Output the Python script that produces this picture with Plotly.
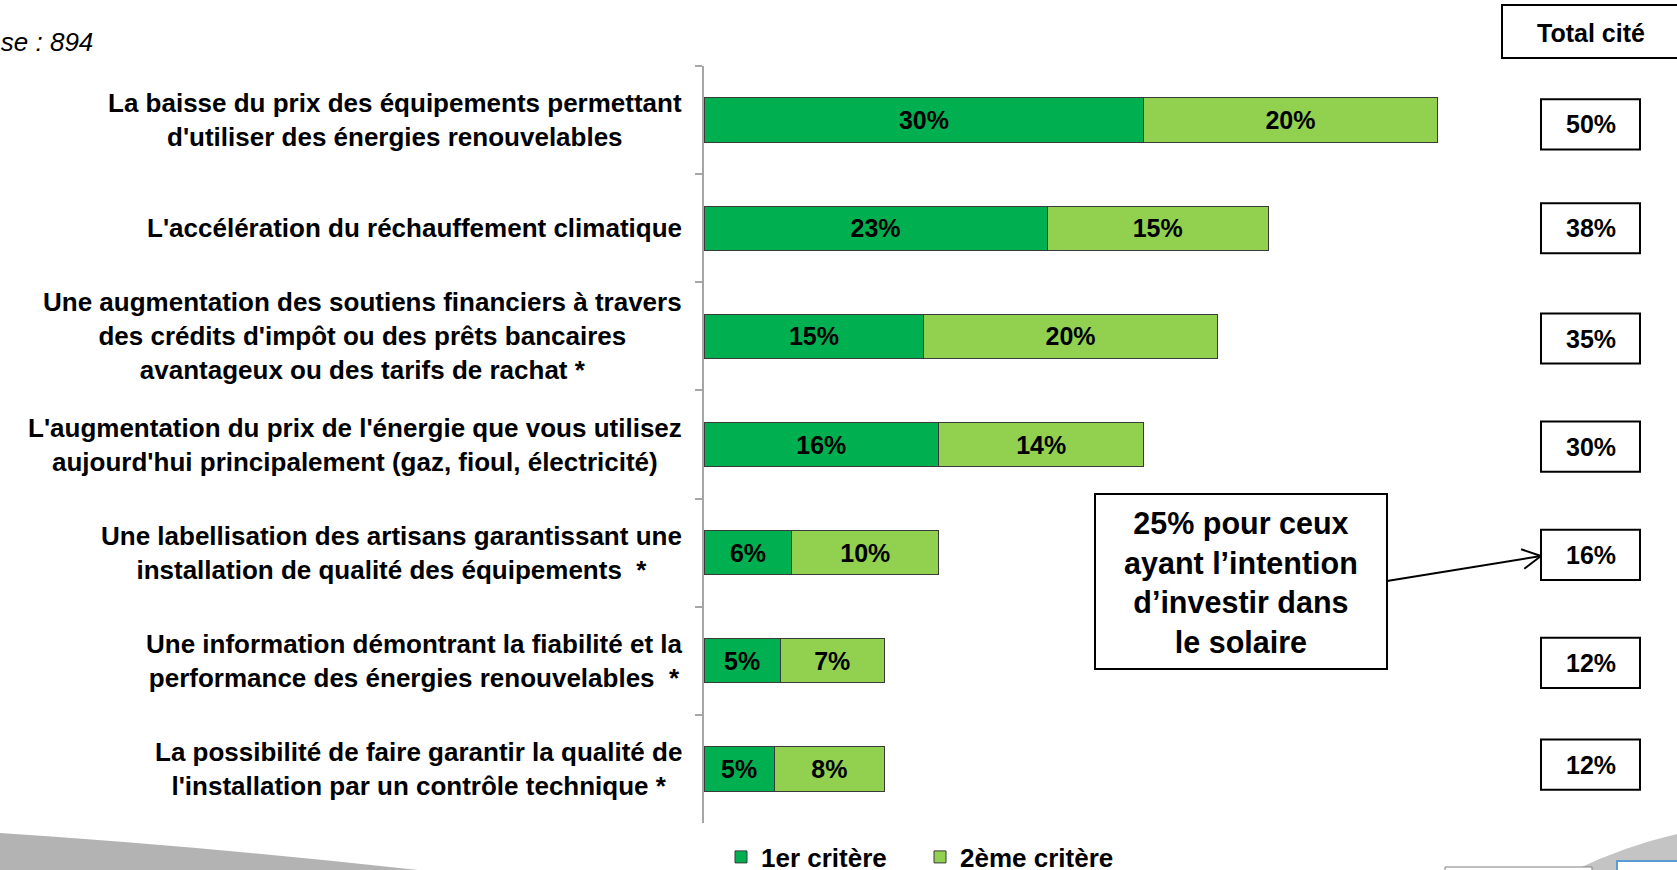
import math
import plotly.graph_objects as go

# ---------------- data ----------------
categories = [
    "La baisse du prix des équipements permettant<br>d'utiliser des énergies renouvelables",
    "L'accélération du réchauffement climatique",
    "Une augmentation des soutiens financiers à travers<br>des crédits d'impôt ou des prêts bancaires<br>avantageux ou des tarifs de rachat *",
    "L'augmentation du prix de l'énergie que vous utilisez<br>aujourd'hui principalement (gaz, fioul, électricité)",
    "Une labellisation des artisans garantissant une<br>installation de qualité des équipements  *",
    "Une information démontrant la fiabilité et la<br>performance des énergies renouvelables  *",
    "La possibilité de faire garantir la qualité de<br>l'installation par un contrôle technique *",
]
first_criterion = [30, 23.4, 15, 16, 6, 5.2, 4.8]
second_criterion = [20, 15.1, 20, 14, 10, 7.1, 7.5]
total_cited = [50, 38, 35, 30, 16, 12, 12]
series_names = ["1er critère", "2ème critère"]
series_colors = ["#00B050", "#92D050"]
base_text = "Base : 894"
header_text = "Total cité"
callout_text = "25% pour ceux<br>ayant l’intention<br>d’investir dans<br>le solaire"

# ---------------- helpers ----------------
W, H = 1677, 870
FONT = "Liberation Sans"
# slight offsets (in category units) of the "Total cité" boxes as placed on the slide
box_offsets = [0.04, 0.0, 0.02, 0.02, 0.02, 0.02, -0.04]


def px(x):
    return x / W


def py(y):
    return 1 - y / H


fig = go.Figure()
for name, vals, col in zip(series_names, [first_criterion, second_criterion], series_colors):
    fig.add_trace(go.Bar(
        y=categories, x=vals, orientation="h", name=name,
        marker=dict(color=col, line=dict(color="#3A3A3A", width=1)),
        texttemplate="%{x:.0f}%", textposition="inside", insidetextanchor="middle",
        textangle=0,
        textfont=dict(family=FONT, size=25, color="black", weight="bold"),
        hoverinfo="skip",
    ))

shapes = []
annotations = []

# category labels (centered lines, right-aligned block)
for c in categories:
    annotations.append(dict(
        x=px(684), xref="paper", y=c, yref="y", xanchor="right", yanchor="middle",
        align="center", showarrow=False, text=c,
        font=dict(family=FONT, size=26, color="black", weight="bold"),
    ))

# total boxes
for i, (t, off) in enumerate(zip(total_cited, box_offsets)):
    yc = i + off
    shapes.append(dict(type="rect", xref="paper", yref="y",
                       x0=px(1541), x1=px(1640), y0=yc - 0.232, y1=yc + 0.232,
                       line=dict(color="black", width=2), fillcolor="white", layer="below"))
    annotations.append(dict(
        x=px(1590.5), xref="paper", y=yc, yref="y", xanchor="center", yanchor="middle",
        showarrow=False, text=f"{t}%",
        font=dict(family=FONT, size=25, color="black", weight="bold"),
    ))

# header box
shapes.append(dict(type="rect", xref="paper", yref="paper",
                   x0=px(1502), x1=px(1700), y0=py(58), y1=py(5),
                   line=dict(color="black", width=2), fillcolor="white", layer="below"))
annotations.append(dict(x=px(1591), y=py(33), xref="paper", yref="paper", showarrow=False,
                        xanchor="center", yanchor="middle", text=header_text,
                        font=dict(family=FONT, size=25, color="black", weight="bold")))

# base
annotations.append(dict(x=px(95), y=py(42), xref="paper", yref="paper", showarrow=False,
                        xanchor="right", yanchor="middle", text=base_text,
                        font=dict(family=FONT, size=26, color="black", style="italic")))

# callout box
shapes.append(dict(type="rect", xref="paper", yref="paper",
                   x0=px(1095), x1=px(1387), y0=py(669), y1=py(494),
                   line=dict(color="black", width=2), fillcolor="white"))
annotations.append(dict(x=px(1241), y=py(582), xref="paper", yref="paper", showarrow=False,
                        xanchor="center", yanchor="middle",
                        text=callout_text, align="center",
                        font=dict(family=FONT, size=30.5, color="black", weight="bold")))

# arrow to the 16% total box
x_start, y_start = 1387, 581
x_tip, y_tip = 1541, 556
shapes.append(dict(type="line", xref="paper", yref="paper",
                   x0=px(x_start), y0=py(y_start), x1=px(x_tip), y1=py(y_tip),
                   line=dict(color="black", width=2)))
dx, dy = x_start - x_tip, y_start - y_tip
L = math.hypot(dx, dy)
bx, by = dx / L, dy / L
for ang in (math.radians(28), math.radians(-28)):
    ax = bx * math.cos(ang) - by * math.sin(ang)
    ay = bx * math.sin(ang) + by * math.cos(ang)
    shapes.append(dict(type="line", xref="paper", yref="paper",
                       x0=px(x_tip), y0=py(y_tip), x1=px(x_tip + 21 * ax), y1=py(y_tip + 21 * ay),
                       line=dict(color="black", width=2)))

# decorative slide swooshes
shapes.append(dict(type="path", xref="paper", yref="paper",
                   path=f"M {px(0)},{py(833)} Q {px(200)},{py(846)} {px(418)},{py(870)} L {px(0)},{py(870)} Z",
                   fillcolor="#B3B3B3", line=dict(width=0), layer="below"))
shapes.append(dict(type="path", xref="paper", yref="paper",
                   path=f"M {px(1575)},{py(870)} Q {px(1625)},{py(846)} {px(1677)},{py(834)} L {px(1677)},{py(870)} Z",
                   fillcolor="#C4C4C4", line=dict(width=0), layer="below"))
shapes.append(dict(type="rect", xref="paper", yref="paper",
                   x0=px(1445), x1=px(1592), y0=py(880), y1=py(867),
                   line=dict(color="#808080", width=1), fillcolor="white"))
shapes.append(dict(type="rect", xref="paper", yref="paper",
                   x0=px(1617), x1=px(1700), y0=py(885), y1=py(861),
                   line=dict(color="#5B9BD5", width=2), fillcolor="white"))

fig.update_layout(
    width=W, height=H,
    margin=dict(l=0, r=0, t=0, b=0, pad=0, autoexpand=False),
    paper_bgcolor="white", plot_bgcolor="rgba(0,0,0,0)",
    barmode="stack", bargap=0.59,
    font=dict(family=FONT, color="black"),
    xaxis=dict(domain=[px(704), 1], range=[0, (1677 - 704) / 14.66], visible=False, fixedrange=True),
    yaxis=dict(domain=[py(823), py(66)], type="category", categoryorder="array",
               categoryarray=categories, range=[6.5, -0.5],
               showline=True, linecolor="#A6A6A6", linewidth=1.5,
               ticks="outside", tickson="boundaries", ticklen=7, tickcolor="#A6A6A6", tickwidth=1.5,
               showticklabels=False, showgrid=False, zeroline=False, fixedrange=True),
    showlegend=True,
    legend=dict(orientation="h", x=px(721), y=py(857), xanchor="left", yanchor="middle",
                traceorder="normal", itemwidth=30, entrywidth=154, entrywidthmode="pixels",
                bgcolor="rgba(0,0,0,0)",
                font=dict(family=FONT, size=26, color="black", weight="bold")),
    shapes=shapes, annotations=annotations,
)

fig.write_html("out.html", config={"displayModeBar": False},
               post_script="document.body.style.margin='0';")
